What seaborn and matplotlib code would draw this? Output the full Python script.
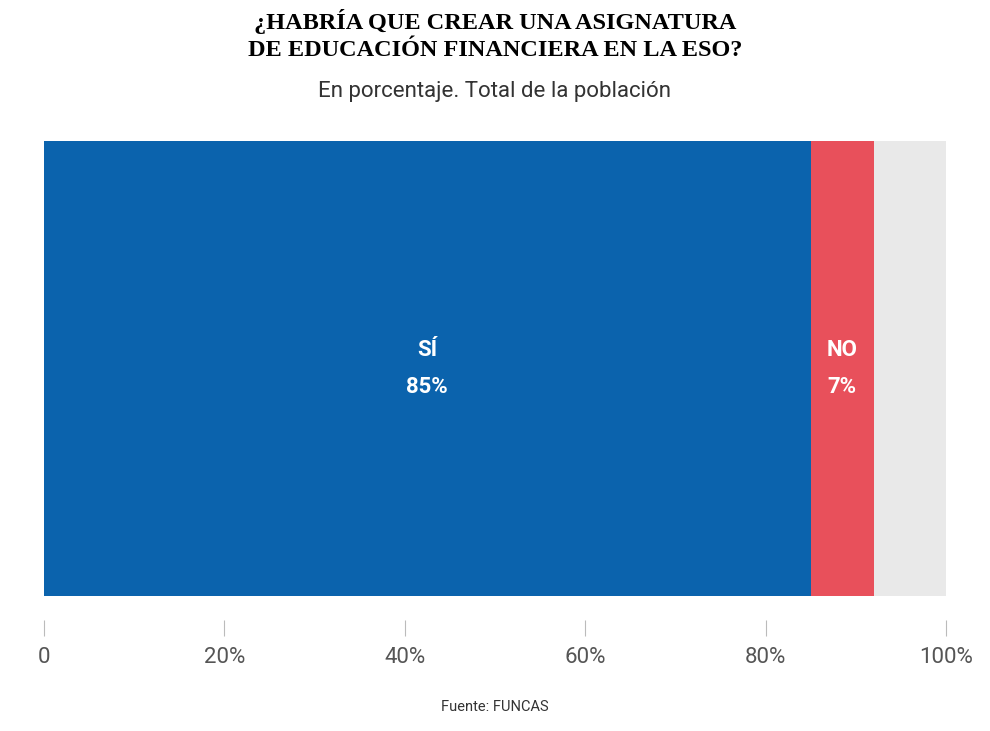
import matplotlib
matplotlib.use("Agg")
import matplotlib.pyplot as plt
import seaborn as sns
import pandas as pd
import numpy as np

# Data
categories = ["SÍ", "NO"]
values = [85, 7]
colors = ["#0b63ad", "#e8505b"]
total = 100
tick_values = [0, 20, 40, 60, 80, 100]
tick_labels = ["0", "20%", "40%", "60%", "80%", "100%"]

sns.set_theme(style="white")
plt.rcParams["font.family"] = ["Roboto", "DejaVu Sans"]

fig = plt.figure(figsize=(9.9, 7.31), dpi=100)
ax = fig.add_axes([44 / 990, 1 - 596 / 731, 902 / 990, 455 / 731])

# Background bar (100%)
sns.barplot(x=[total], y=["tot"], orient="h", color="#e9e9e9", width=1,
            saturation=1, linewidth=0, ax=ax)

# Stacked bars drawn from the longest cumulative end to the shortest
ends = np.cumsum(values)
df = pd.DataFrame({"cat": categories, "value": values, "end": ends})
for i in range(len(df) - 1, -1, -1):
    sns.barplot(x=[df["end"][i]], y=["tot"], orient="h", color=colors[i],
                width=1, saturation=1, linewidth=0, ax=ax)

ax.set_xlim(0, total)
ax.set_ylim(0.5, -0.5)

# Labels inside the bars
starts = ends - np.array(values)
for cat, v, s in zip(categories, values, starts):
    xc = s + v / 2
    ax.text(xc, -0.04, cat, color="white", fontsize=16, fontweight="bold",
            ha="center", va="center")
    ax.text(xc, 0.04, f"{v}%", color="white", fontsize=16, fontweight="bold",
            ha="center", va="center")

# Axis styling
for side in ["top", "right", "left", "bottom"]:
    ax.spines[side].set_visible(False)
ax.spines["bottom"].set_position(("outward", 17))
ax.set_yticks([])
ax.set_ylabel("")
ax.set_xlabel("")
ax.set_xticks(tick_values)
ax.set_xticklabels(tick_labels)
ax.tick_params(axis="x", bottom=True, length=11.5, width=0.8, color="#bbbbbb",
               pad=8, labelsize=16, labelcolor="#555555")

# Titles
fig.text(0.5, 1 - 22 / 731, "¿HABRÍA QUE CREAR UNA ASIGNATURA", ha="center",
         va="center", fontsize=17.5, fontweight="bold",
         family=["Liberation Serif", "DejaVu Serif"], color="#000000")
fig.text(0.5, 1 - 50 / 731, "DE EDUCACIÓN FINANCIERA EN LA ESO?", ha="center",
         va="center", fontsize=17.5, fontweight="bold",
         family=["Liberation Serif", "DejaVu Serif"], color="#000000")
fig.text(0.5, 1 - 92 / 731, "En porcentaje. Total de la población",
         ha="center", va="center", fontsize=16, color="#333333")
fig.text(0.5, 1 - 707 / 731, "Fuente: FUNCAS", ha="center", va="center",
         fontsize=10.5, color="#333333")

fig.savefig("out.png", dpi=100)
